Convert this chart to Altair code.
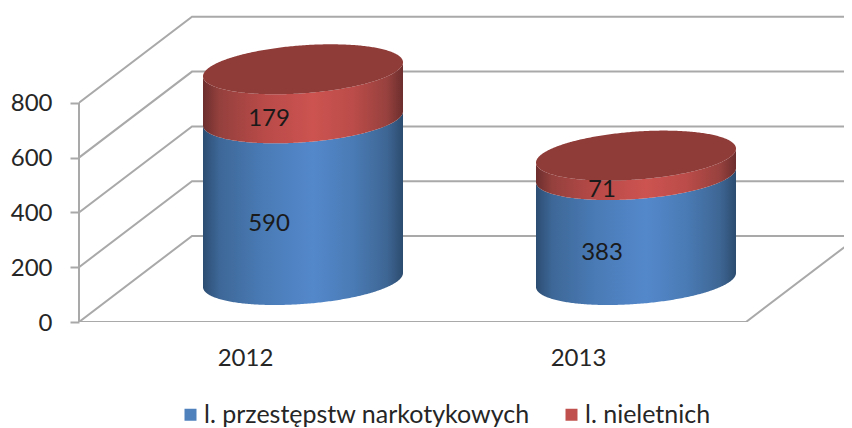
import numpy as np
import pandas as pd
import altair as alt

# --- values
years = [2012, 2013]
series_names = ["l. przestępstw narkotykowych", "l. nieletnich"]
drug_offences = [590, 383]
juveniles = [179, 71]
y_ticks = [0, 200, 400, 600, 800]

# --- layout of the pseudo-3D box, in data units
PX_PER_YEAR = 333.0
PX_PER_VALUE = 0.274
LEFT, RIGHT = 79.0, 844.0
BASE_YEAR_PX = 245.0
def xu(px):
    return 2012 + (px - BASE_YEAR_PX) / PX_PER_YEAR
def vu(px):
    return px / PX_PER_VALUE

X_DOMAIN = [xu(LEFT), xu(RIGHT)]
Y_DOMAIN = [0, vu(314)]
DEPTH_X = 113 / PX_PER_YEAR
DEPTH_V = vu(86)
FLOOR_END = xu(746)
BAR_SHIFT = 58 / PX_PER_YEAR
BAR_RX = 100 / PX_PER_YEAR
BAR_BASE = vu(42)
BAR_RY = vu(24)
BAR_TILT = vu(7)
LABEL_DX = -34 / PX_PER_YEAR

GRID = "#a9a9a9"
TEXT = "#262626"
FONT = "Lato"
FS = 24

front = X_DOMAIN[0]
grid_rows = []
for v in y_ticks:
    grid_rows += [
        {"g": v, "i": 0, "x": front, "v": v},
        {"g": v, "i": 1, "x": front + DEPTH_X, "v": v + DEPTH_V},
        {"g": v, "i": 2, "x": X_DOMAIN[1], "v": v + DEPTH_V},
    ]
floor_rows = [
    {"i": 0, "x": front, "v": 0},
    {"i": 1, "x": FLOOR_END, "v": 0},
    {"i": 2, "x": FLOOR_END + DEPTH_X, "v": DEPTH_V},
]
axis_rows = [{"i": 0, "x": front, "v": 0}, {"i": 1, "x": front, "v": y_ticks[-1]}]

u = np.cos(np.linspace(np.pi, 0, 181))
s = np.sqrt(np.clip(1 - u * u, 0, 1))
blue_rows, red_rows, top_rows, labels = [], [], [], []
for yr, a, b in zip(years, drug_offences, juveniles):
    c = yr + BAR_SHIFT
    for uu, ss in zip(u, s):
        x = c + uu * BAR_RX
        tilt = uu * BAR_TILT
        lo = lambda lvl: BAR_BASE + lvl + tilt - BAR_RY * ss
        hi = lambda lvl: BAR_BASE + lvl + tilt + BAR_RY * ss
        blue_rows.append({"yr": yr, "x": x, "v": lo(0), "v2": lo(a)})
        red_rows.append({"yr": yr, "x": x, "v": lo(a), "v2": lo(a + b)})
        top_rows.append({"yr": yr, "x": x, "v": lo(a + b), "v2": hi(a + b)})
    labels.append({"x": c + LABEL_DX, "v": BAR_BASE + a / 2 - vu(25), "t": str(a)})
    labels.append({"x": c + LABEL_DX, "v": BAR_BASE + a + b / 2 - vu(25), "t": str(b)})

xs = alt.Scale(domain=X_DOMAIN, nice=False, zero=False)
ys = alt.Scale(domain=Y_DOMAIN, nice=False, zero=False)
X = alt.X("x:Q", scale=xs, title=None,
          axis=alt.Axis(values=years, format="d", domain=False, ticks=False, grid=False,
                        labelPadding=24, labelFontSize=FS, labelFont=FONT, labelColor=TEXT))
Y = alt.Y("v:Q", scale=ys, title=None,
          axis=alt.Axis(values=y_ticks, domain=False, grid=False, tickSize=9, tickColor=GRID,
                        tickWidth=2, labelPadding=18, labelOffset=1, labelFontSize=FS,
                        labelFont=FONT, labelColor=TEXT))
Y2 = alt.Y2("v2:Q")

def grad(stops):
    return alt.Gradient(gradient="linear", x1=0, x2=1, y1=0, y2=0,
                        stops=[alt.GradientStop(offset=o, color=c) for o, c in stops])

blue_grad = grad([(0, "#2c4d72"), (0.08, "#3d6797"), (0.3, "#4a7bb6"), (0.55, "#5388cb"),
                  (0.75, "#4a7bb5"), (0.92, "#3e6694"), (1, "#2c4c6f")])
red_grad = grad([(0, "#6c2e2d"), (0.08, "#94403d"), (0.3, "#b84a48"), (0.55, "#cc5350"),
                 (0.75, "#bb4c49"), (0.92, "#97413e"), (1, "#6c2e2d")])

grid = alt.Chart(pd.DataFrame(grid_rows)).mark_line(color=GRID, strokeWidth=2, clip=True).encode(
    x=X, y=Y, detail="g:N", order="i:Q")
floor = alt.Chart(pd.DataFrame(floor_rows)).mark_line(color=GRID, strokeWidth=2, clip=True).encode(
    x=X, y=Y, order="i:Q")
axis_line = alt.Chart(pd.DataFrame(axis_rows)).mark_line(color=GRID, strokeWidth=2, clip=False).encode(
    x=X, y=Y, order="i:Q")

blue = alt.Chart(pd.DataFrame(blue_rows)).mark_area(color=blue_grad).encode(
    x=X, y=Y, y2=Y2, detail="yr:N")
red = alt.Chart(pd.DataFrame(red_rows)).mark_area(color=red_grad).encode(
    x=X, y=Y, y2=Y2, detail="yr:N")
top = alt.Chart(pd.DataFrame(top_rows)).mark_area(color="#8f3b38").encode(
    x=X, y=Y, y2=Y2, detail="yr:N")
text = alt.Chart(pd.DataFrame(labels)).mark_text(font=FONT, fontSize=FS, color="#1a1a1a").encode(
    x=X, y=Y, text="t:N")

legend_df = pd.DataFrame({"s": series_names, "x": [years[0]] * 2, "v": [0, 0]})
legend = alt.Chart(legend_df).mark_point(filled=True, size=0, opacity=0).encode(
    x=X, y=Y,
    color=alt.Color("s:N",
                    scale=alt.Scale(domain=series_names, range=["#4f81bd", "#c0504d"]),
                    sort=series_names,
                    legend=alt.Legend(title=None, orient="none", legendX=99, legendY=394,
                                      direction="horizontal", columns=2, columnPadding=29,
                                      symbolType="square", symbolSize=144, symbolOpacity=1,
                                      symbolStrokeWidth=0, labelFont=FONT, labelFontSize=25,
                                      labelLimit=0, labelColor=TEXT, labelOffset=1, padding=0)))

chart = alt.layer(grid, floor, axis_line, blue, red, top, text, legend).properties(
    width=765, height=314,
    padding={"left": 71, "top": 0, "right": 0, "bottom": 106},
    autosize=alt.AutoSizeParams(type="none"),
    background="#ffffff",
).configure_view(stroke=None)

chart.save("out.html", embed_options={"renderer": "svg", "actions": False})
